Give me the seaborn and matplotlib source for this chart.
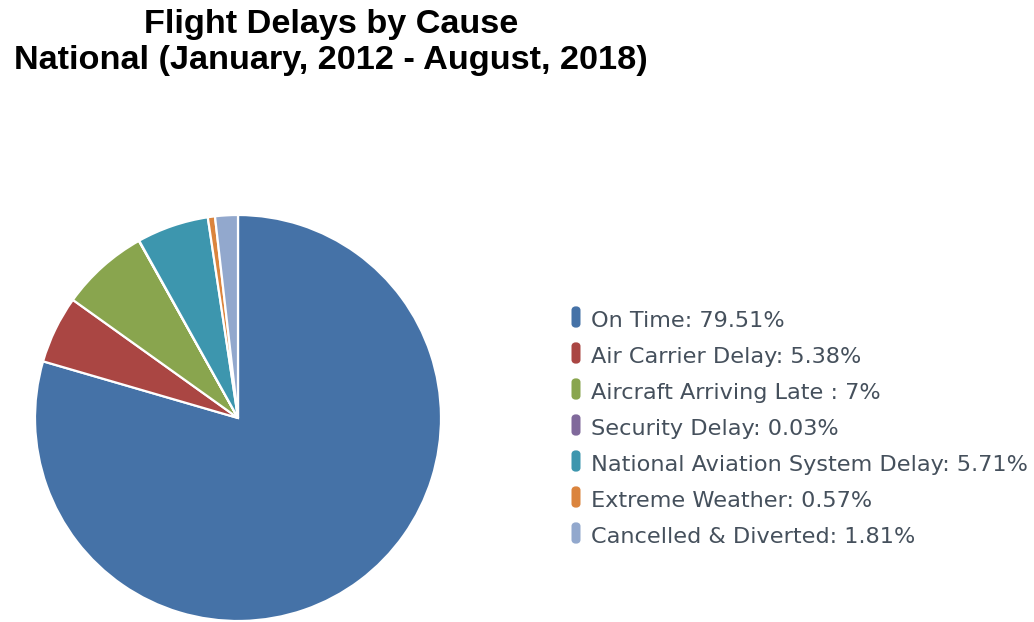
import matplotlib
matplotlib.use("Agg")
import matplotlib.pyplot as plt
from matplotlib.patches import FancyBboxPatch
import seaborn as sns

# Share of flights by outcome / delay cause (percent)
causes = ["On Time", "Air Carrier Delay", "Aircraft Arriving Late ", "Security Delay",
          "National Aviation System Delay", "Extreme Weather", "Cancelled & Diverted"]
shares = [79.51, 5.38, 7, 0.03, 5.71, 0.57, 1.81]
colors = ["#4572A7", "#AA4643", "#89A54E", "#80699B", "#3D96AE", "#DB843D", "#92A8CD"]

sns.set_theme(style="white")
palette = sns.color_palette(colors)

W, H = 1034, 622
fig = plt.figure(figsize=(W / 100, H / 100), dpi=100)
fig.patch.set_facecolor("white")

# Pie axes: a square box in pixel space
cx, cy, r = 238, 418, 203
ax = fig.add_axes([(cx - r) / W, 1 - (cy + r) / H, 2 * r / W, 2 * r / H])
ax.pie(shares, colors=palette, startangle=90, counterclock=False,
       wedgeprops=dict(edgecolor="white", linewidth=1.6))
ax.set_xlim(-1, 1)
ax.set_ylim(-1, 1)
ax.set_axis_off()

# Title
title_kw = dict(ha="center", va="baseline", fontsize=24.7, fontweight="bold",
                family="Liberation Sans", color="black")
fig.text(331 / W, 1 - 33 / H, "Flight Delays by Cause", **title_kw)
fig.text(331 / W, 1 - 69 / H, "National (January, 2012 - August, 2018)", **title_kw)

# Legend
y0, dy = 317, 36
for i, (name, val, col) in enumerate(zip(causes, shares, palette)):
    y = y0 + i * dy
    bw, bh = 9, 22
    patch = FancyBboxPatch(((576 - bw / 2) / W, 1 - (y + bh / 2) / H), bw / W, bh / H,
                           boxstyle="round,pad=0,rounding_size=0.0065",
                           transform=fig.transFigure, facecolor=col, edgecolor="none")
    fig.add_artist(patch)
    fig.text(591 / W, 1 - (y + 10) / H, f"{name}: {val:g}%", ha="left", va="baseline",
             fontsize=16.15, family="DejaVu Sans", color="#45505c")

fig.savefig("out.png", dpi=100, facecolor="white")
